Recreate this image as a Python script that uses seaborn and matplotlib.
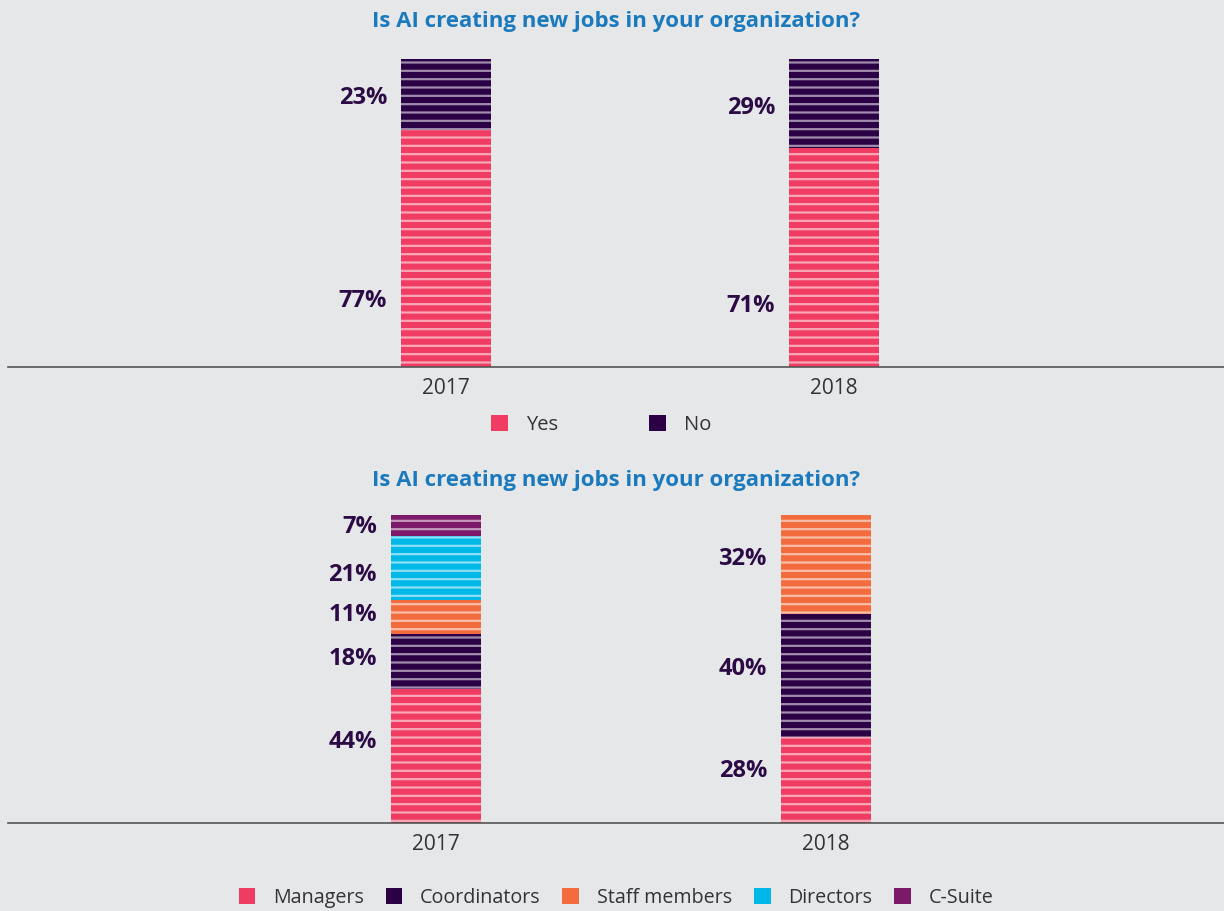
import matplotlib
matplotlib.use("Agg")
import matplotlib.pyplot as plt
import matplotlib.colors as mcolors
from matplotlib.patches import Patch
import seaborn as sns
import pandas as pd
import numpy as np

# data
years = ["2017", "2018"]

top_categories = ["Yes", "No"]
top_yes = [77, 71]
top_no = [23, 29]

bottom_categories = ["Managers", "Coordinators", "Staff members", "Directors", "C-Suite"]
managers = [44, 28]
coordinators = [18, 40]
staff_members = [11, 32]
directors = [21, 0]
c_suite = [7, 0]

colors = {
    "Yes": "#f03c62",
    "No": "#2b0044",
    "Managers": "#f03c62",
    "Coordinators": "#2b0044",
    "Staff members": "#f26c3e",
    "Directors": "#00b8e8",
    "C-Suite": "#7c1a69",
}

BG = "#e6e7e9"
TITLE = "#1b7abd"
LABEL = "#2b0a45"

sns.set_style("white")
plt.rcParams["font.family"] = ["Open Sans", "DejaVu Sans"]
plt.rcParams["hatch.linewidth"] = 1.6


def tint(c, amount):
    r, g, b = mcolors.to_rgb(c)
    return (r + (1 - r) * amount, g + (1 - g) * amount, b + (1 - b) * amount)


def stacked(ax, cats, series, label_fracs):
    df = pd.DataFrame({"year": years})
    for cat, vals in zip(cats, series):
        df[cat] = vals
    totals = df[cats].sum(axis=1)
    norm = df[cats].div(totals, axis=0) * 100
    cum = norm.cumsum(axis=1)
    # draw tallest (cumulative) first so lower segments sit on top
    for cat in reversed(cats):
        sns.barplot(x=df["year"], y=cum[cat], color=colors[cat], width=0.232,
                    ax=ax, saturation=1, edgecolor=tint(colors[cat], 0.55),
                    linewidth=0, hatch="--")
    # percentage labels left of each bar
    for i in range(len(years)):
        base = 0
        for cat, frac in zip(cats, label_fracs):
            h = norm.loc[i, cat]
            raw = df.loc[i, cat]
            if raw > 0:
                ax.annotate(f"{raw}%", xy=(i - 0.116, base + h * frac),
                            xytext=(-10, 0), textcoords="offset points",
                            ha="right", va="center", fontsize=17,
                            fontweight="bold", color=LABEL)
            base += h
    ax.set_ylim(0, 100)
    ax.set_facecolor(BG)
    for s in ["left", "right", "top"]:
        ax.spines[s].set_visible(False)
    ax.spines["bottom"].set_color("#555555")
    ax.spines["bottom"].set_linewidth(1.2)
    ax.set_yticks([])
    ax.set_xlabel("")
    ax.set_ylabel("")
    ax.tick_params(axis="x", length=0, pad=8, labelsize=15, labelcolor="#333333")


fig = plt.figure(figsize=(12.24, 9.11), dpi=100, facecolor=BG)

ax1 = fig.add_axes([8 / 1224, 1 - 367 / 911, 1216 / 1224, 308 / 911])
stacked(ax1, top_categories, [top_yes, top_no], [0.28, 0.45])
ax1.set_xlim(-1.129, 2.005)

ax2 = fig.add_axes([8 / 1224, 1 - 823 / 911, 1216 / 1224, 308 / 911])
stacked(ax2, bottom_categories,
        [managers, coordinators, staff_members, directors, c_suite],
        [0.6, 0.55, 0.55, 0.4, 0.45])
ax2.set_xlim(-1.097, 2.020)

for y in [1 - 22 / 911, 1 - 481 / 911]:
    fig.text(616 / 1224, y, "Is AI creating new jobs in your organization?",
             ha="center", va="center", fontsize=16, fontweight="bold", color=TITLE)

h1 = [Patch(facecolor=colors[c], edgecolor="none", label=c) for c in top_categories]
fig.legend(handles=h1, loc="center", bbox_to_anchor=(601 / 1224, 1 - 425 / 911),
           ncol=2, frameon=False, fontsize=14.5, handlelength=0.85, handleheight=0.85,
           handletextpad=0.9, columnspacing=4.5, labelcolor="#333333")

h2 = [Patch(facecolor=colors[c], edgecolor="none", label=c) for c in bottom_categories]
fig.legend(handles=h2, loc="center", bbox_to_anchor=(616 / 1224, 1 - 898 / 911),
           ncol=5, frameon=False, fontsize=14.2, handlelength=0.85, handleheight=0.85,
           handletextpad=0.9, columnspacing=1.1, labelcolor="#333333")

fig.savefig("out.png", dpi=100, facecolor=BG)
